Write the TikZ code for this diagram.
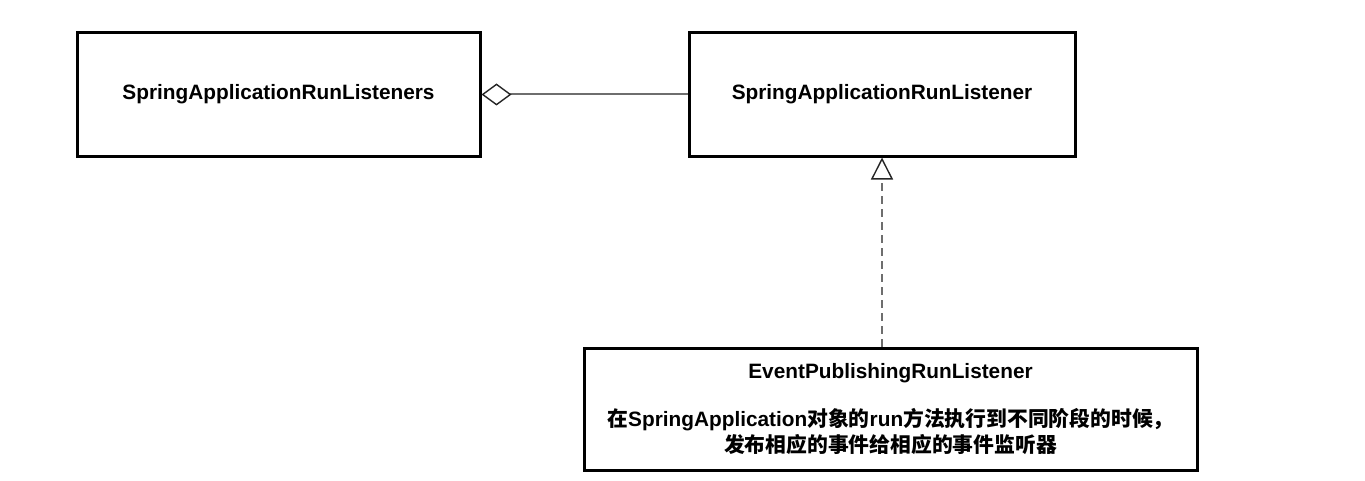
\documentclass[tikz,border=0pt]{standalone}
\usepackage{fontspec}
\setmainfont{Liberation Sans}
\newfontfamily\cjk{Noto Sans CJK SC}
\usetikzlibrary{arrows.meta,positioning}
\definecolor{linkgray}{RGB}{110,110,110}
\tikzset{
  classbox/.style={draw=black,line width=1.5pt,fill=white,align=center,
                   minimum width=201.5pt,minimum height=61.5pt,inner sep=0pt,
                   font=\fontsize{10.4}{13}\selectfont\bfseries},
  aggregation/.style={draw=linkgray,line width=1pt,
                      -{Diamond[open,length=15pt,width=11pt,line width=0.7pt,color=black!85]}},
  realization/.style={draw=linkgray,line width=1pt,dash pattern=on 4pt off 2.5pt,
                      -{Triangle[open,length=11pt,width=11pt,line width=0.7pt,color=black!85]}},
}

\begin{document}
\begin{tikzpicture}[x=0.5pt,y=-0.5pt]
  \path[use as bounding box] (0,0) rectangle (1365,481);

  \node[classbox] (listeners) at (278.5,94.5) {SpringApplicationRunListeners};
  \node[classbox,minimum width=193pt] (listener) at (882,94.5) {SpringApplicationRunListener};
  \node[classbox,minimum width=306.5pt,minimum height=61pt] (publisher) at (890.5,409)
    {EventPublishingRunListener\\[11pt]
     {\cjk 在}SpringApplication{\cjk 对象的}run{\cjk 方法执行到不同阶段的时候，}\\
     {\cjk 发布相应的事件给相应的事件监听器}};

  \draw[aggregation] (listener.west) -- (listeners.east);
  \draw[realization] (listener.south |- publisher.north) -- (listener.south);
\end{tikzpicture}
\end{document}
